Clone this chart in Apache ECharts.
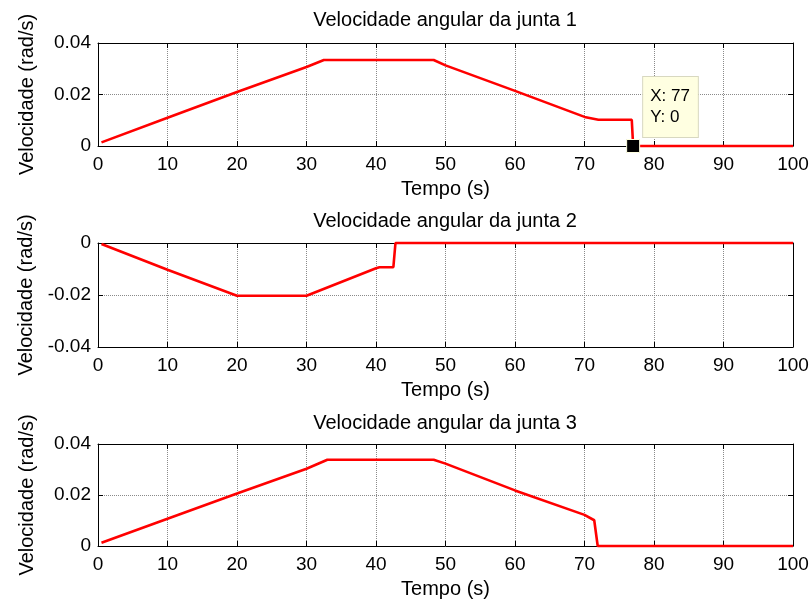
<!DOCTYPE html>
<html>
<head>
<meta charset="utf-8">
<script src="https://cdn.jsdelivr.net/npm/echarts@6/dist/echarts.min.js"></script>
<style>
  html, body { margin: 0; padding: 0; background: #fff; }
  #main { width: 812px; height: 603px; }
</style>
</head>
<body>
<div id="main"></div>
<script>
// junta 1
var tempo1 = [0.5, 10, 20, 30, 32.5, 48.3, 50, 60, 70, 72, 76.8, 77, 100];
var vel1 = [0.0014, 0.011, 0.021, 0.0307, 0.0334, 0.0334, 0.0313, 0.0214, 0.0113, 0.0102, 0.0102, 0, 0];
// junta 2
var tempo2 = [0.5, 10, 20, 30, 40, 40.5, 42.5, 42.8, 100];
var vel2 = [-0.0004, -0.0103, -0.0203, -0.0203, -0.0097, -0.0093, -0.0093, 0, 0];
// junta 3
var tempo3 = [0.5, 10, 20, 30, 33, 48.3, 50, 60, 70, 71.4, 71.9, 100];
var vel3 = [0.0013, 0.0107, 0.0206, 0.0303, 0.0338, 0.0338, 0.0323, 0.0218, 0.0122, 0.0101, 0, 0];

var titulos = ["Velocidade angular da junta 1", "Velocidade angular da junta 2", "Velocidade angular da junta 3"];
var yLimites = [[0, 0.04], [-0.04, 0], [0, 0.04]];
var dataTip = [77, 0];

var FONT = "Liberation Sans, Arial, sans-serif";
var tops = [43, 243, 444];
var heights = [103, 104, 102];
var titleTops = [10, 211, 413];

function zip(a, b) {
  var out = [];
  for (var i = 0; i < a.length; i++) out.push([a[i], b[i]]);
  return out;
}

var grids = [], xAxes = [], yAxes = [], titles = [], series = [];
var tempos = [tempo1, tempo2, tempo3];
var vels = [vel1, vel2, vel3];

for (var k = 0; k < 3; k++) {
  grids.push({ left: 98, width: 695, top: tops[k], height: heights[k], show: false });
  titles.push({
    text: titulos[k], left: 445, top: titleTops[k], textAlign: "center", padding: 0,
    textStyle: { fontFamily: FONT, fontSize: 20, fontWeight: "normal", color: "#000" }
  });
  // eixo x inferior
  xAxes.push({
    type: "value", gridIndex: k, min: 0, max: 100, interval: 10, position: "bottom",
    name: "Tempo (s)", nameLocation: "middle", nameGap: 33,
    nameTextStyle: { fontFamily: FONT, fontSize: 20, color: "#000" },
    axisLine: { onZero: false, lineStyle: { color: "#000", width: 1 } },
    axisTick: { inside: true, length: 5, lineStyle: { color: "#000" } },
    axisLabel: { fontFamily: FONT, fontSize: 19, color: "#000", margin: 9 },
    splitLine: { show: true, lineStyle: { color: "#8a8a8a", type: [1, 1], width: 1 } }
  });
  // eixo x superior (caixa)
  xAxes.push({
    type: "value", gridIndex: k, min: 0, max: 100, interval: 10, position: "top",
    axisLine: { onZero: false, lineStyle: { color: "#000", width: 1 } },
    axisTick: { inside: true, length: 5, lineStyle: { color: "#000" } },
    axisLabel: { show: false }, splitLine: { show: false }
  });
  yAxes.push({
    type: "value", gridIndex: k, min: yLimites[k][0], max: yLimites[k][1], interval: 0.02, position: "left",
    name: "Velocidade (rad/s)", nameLocation: "middle", nameGap: 61, nameRotate: 90,
    nameTextStyle: { fontFamily: FONT, fontSize: 20, color: "#000" },
    axisLine: { onZero: false, lineStyle: { color: "#000", width: 1 } },
    axisTick: { inside: true, length: 5, lineStyle: { color: "#000" } },
    axisLabel: { fontFamily: FONT, fontSize: 19, color: "#000", margin: 7 },
    splitLine: { show: true, lineStyle: { color: "#8a8a8a", type: [1, 1], width: 1 } }
  });
  yAxes.push({
    type: "value", gridIndex: k, min: yLimites[k][0], max: yLimites[k][1], interval: 0.02, position: "right",
    axisLine: { onZero: false, lineStyle: { color: "#000", width: 1 } },
    axisTick: { inside: true, length: 5, lineStyle: { color: "#000" } },
    axisLabel: { show: false }, splitLine: { show: false }
  });
  var s = {
    type: "line", xAxisIndex: 2 * k, yAxisIndex: 2 * k,
    data: zip(tempos[k], vels[k]),
    showSymbol: false, animation: false, clip: false,
    lineStyle: { color: "#ff0000", width: 2.6 },
    itemStyle: { color: "#ff0000" }
  };
  if (k === 0) {
    s.markPoint = {
      symbol: "rect", symbolSize: 13, animation: false,
      itemStyle: { color: "#000", borderColor: "#ffffe1", borderWidth: 1 },
      label: {
        show: true, position: [17, -62],
        formatter: "X: " + dataTip[0] + "\nY: " + dataTip[1],
        fontFamily: FONT, fontSize: 17, color: "#000", lineHeight: 21, align: "left",
        backgroundColor: "#ffffe1", borderColor: "#d8d8c0", borderWidth: 1,
        padding: [9, 8, 9, 7]
      },
      data: [{ coord: dataTip }]
    };
  }
  series.push(s);
}

var chart = echarts.init(document.getElementById("main"), null, { renderer: "canvas" });
chart.setOption({
  backgroundColor: "#fff",
  animation: false,
  title: titles,
  grid: grids,
  xAxis: xAxes,
  yAxis: yAxes,
  series: series
});
window.addEventListener("resize", function () { chart.resize(); });
</script>
</body>
</html>
